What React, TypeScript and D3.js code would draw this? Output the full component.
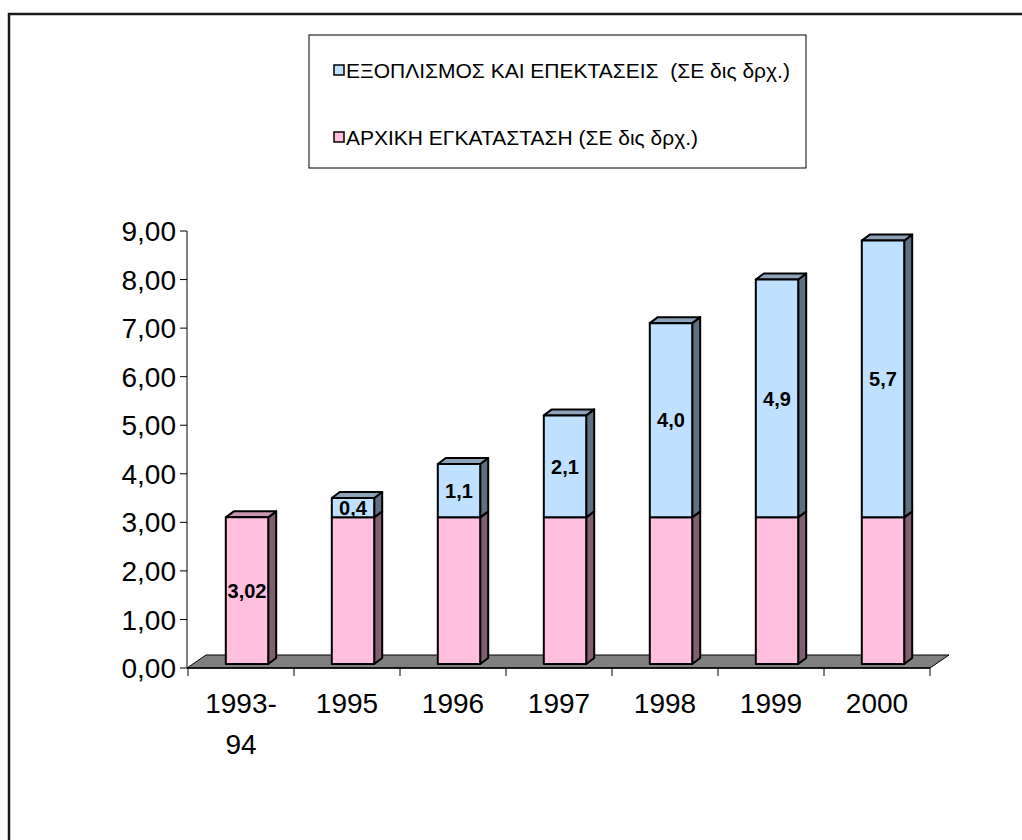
import React from "react";
import * as d3 from "d3";

const categories = ["1993-94", "1995", "1996", "1997", "1998", "1999", "2000"];
const initialInstall = [3.02, 3.02, 3.02, 3.02, 3.02, 3.02, 3.02];
const equipment = [0, 0.4, 1.1, 2.1, 4.0, 4.9, 5.7];
const initialLabels = ["3,02", "", "", "", "", "", ""];
const equipmentLabels = ["", "0,4", "1,1", "2,1", "4,0", "4,9", "5,7"];
const yTicks = [0, 1, 2, 3, 4, 5, 6, 7, 8, 9];
const legendItems = [
  { name: "ΕΞΟΠΛΙΣΜΟΣ ΚΑΙ ΕΠΕΚΤΑΣΕΙΣ  (ΣΕ δις δρχ.)", key: "equip" },
  { name: "ΑΡΧΙΚΗ ΕΓΚΑΤΑΣΤΑΣΗ (ΣΕ δις δρχ.)", key: "init" },
];

const COLORS: Record<string, { front: string; side: string; top: string }> = {
  init: { front: "#FFC0E0", side: "#806070", top: "#C896B0" },
  equip: { front: "#C0E0FF", side: "#607080", top: "#8EA3BA" },
};

const FONT = "Arial, 'Liberation Sans', Helvetica, sans-serif";

export default function App() {
  const W = 1022;
  const H = 840;
  const x0 = 188;
  const x1 = 930;
  const yTop = 231;
  const yBase = 668;
  const floorDx = 19;
  const floorDy = -13;
  const barShiftX = 6;
  const barShiftY = -4;
  const barDx = 8;
  const barDy = -6;

  const x = d3.scaleBand<string>().domain(categories).range([x0, x1]).padding(0);
  const y = d3.scaleLinear().domain([0, 9]).range([yBase, yTop]);
  const barW = x.bandwidth() * 0.4;
  const fmt = (v: number) => d3.format(".2f")(v).replace(".", ",");

  const box = (
    key: string,
    i: number,
    bx: number,
    yb: number,
    yt: number,
    drawTop: boolean
  ) => {
    const c = COLORS[key];
    const front = `M${bx},${yt}H${bx + barW}V${yb}H${bx}Z`;
    const side = `M${bx + barW},${yt}L${bx + barW + barDx},${yt + barDy}V${yb + barDy}L${bx + barW},${yb}Z`;
    const top = `M${bx},${yt}L${bx + barDx},${yt + barDy}H${bx + barW + barDx}L${bx + barW},${yt}Z`;
    return (
      <g key={key + i}>
        <path d={side} fill={c.side} stroke="#000" strokeWidth={2} strokeLinejoin="round" />
        {drawTop && <path d={top} fill={c.top} stroke="#000" strokeWidth={2} strokeLinejoin="round" />}
        <path d={front} fill={c.front} stroke="#000" strokeWidth={2} strokeLinejoin="round" />
      </g>
    );
  };

  return (
    <svg
      width={W}
      height={H}
      style={{ position: "absolute", left: 0, top: 0, background: "#fff" }}
      fontFamily={FONT}
    >
      <rect x={0} y={0} width={W} height={H} fill="#fff" />
      {/* outer frame */}
      <rect x={9} y={14} width={W + 100} height={H + 100} fill="none" stroke="#1a1a1a" strokeWidth={2.5} />

      {/* legend */}
      <rect x={309} y={35} width={497} height={133} fill="#fff" stroke="#000" strokeWidth={1} />
      {legendItems.map((it, i) => {
        const cy = 70 + i * 67;
        return (
          <g key={it.key}>
            <rect x={334} y={cy - 5} width={10} height={10} fill={COLORS[it.key].front} stroke="#000" strokeWidth={1.5} />
            <text x={346} y={cy} dy="0.36em" fontSize={21} fill="#000" style={{ whiteSpace: "pre" }}>
              {it.name}
            </text>
          </g>
        );
      })}

      {/* floor */}
      <path
        d={`M${x0 - 1},${yBase}H${x1}L${x1 + floorDx},${yBase + floorDy}H${x0 - 1 + floorDx}Z`}
        fill="#808080"
        stroke="#000"
        strokeWidth={1}
      />

      {/* y axis */}
      <line x1={x0 - 1} x2={x0 - 1} y1={yTop} y2={yBase} stroke="#000" strokeWidth={1} />
      {yTicks.map((t) => (
        <g key={t}>
          <line x1={x0 - 8} x2={x0 - 1} y1={y(t)} y2={y(t)} stroke="#000" strokeWidth={1} />
          <text x={x0 - 12} y={y(t)} dy="0.36em" textAnchor="end" fontSize={28} fill="#000">
            {fmt(t)}
          </text>
        </g>
      ))}

      {/* x axis */}
      <line x1={x0 - 1} x2={x1} y1={yBase} y2={yBase} stroke="#000" strokeWidth={1.5} />
      {[...categories.map((c) => x(c) as number), x1].map((tx, i) => (
        <line key={i} x1={tx} x2={tx} y1={yBase} y2={yBase + 8} stroke="#000" strokeWidth={1} />
      ))}
      {categories.map((c) => {
        const cx = (x(c) as number) + x.bandwidth() / 2;
        const parts = c.includes("-") ? [c.split("-")[0] + "-", c.split("-")[1]] : [c];
        return (
          <text key={c} x={cx} y={713} textAnchor="middle" fontSize={28} fill="#000">
            {parts.map((p, j) => (
              <tspan key={j} x={cx} dy={j === 0 ? 0 : 41}>
                {p}
              </tspan>
            ))}
          </text>
        );
      })}

      {/* bars */}
      {categories.map((c, i) => {
        const bx = (x(c) as number) + x.bandwidth() / 2 - barW / 2 + barShiftX;
        const b0 = y(0) + barShiftY;
        const b1 = y(initialInstall[i]) + barShiftY;
        const b2 = y(initialInstall[i] + equipment[i]) + barShiftY;
        const hasEquip = equipment[i] > 0;
        return (
          <g key={c}>
            {box("init", i, bx, b0, b1, !hasEquip)}
            {hasEquip && box("equip", i, bx, b1, b2, true)}
          </g>
        );
      })}

      {/* data labels */}
      {categories.map((c, i) => {
        const cx = (x(c) as number) + x.bandwidth() / 2 + barShiftX;
        const out: React.ReactNode[] = [];
        if (initialLabels[i]) {
          const ly = (y(0) + y(initialInstall[i])) / 2 + barShiftY;
          out.push(
            <text key="a" x={cx} y={ly} dy="0.36em" textAnchor="middle" fontSize={20} fontWeight="bold" fill="#000">
              {initialLabels[i]}
            </text>
          );
        }
        if (equipmentLabels[i]) {
          const ly = (y(initialInstall[i]) + y(initialInstall[i] + equipment[i])) / 2 + barShiftY;
          out.push(
            <text key="b" x={cx} y={ly} dy="0.36em" textAnchor="middle" fontSize={20} fontWeight="bold" fill="#000">
              {equipmentLabels[i]}
            </text>
          );
        }
        return <g key={c}>{out}</g>;
      })}
    </svg>
  );
}
